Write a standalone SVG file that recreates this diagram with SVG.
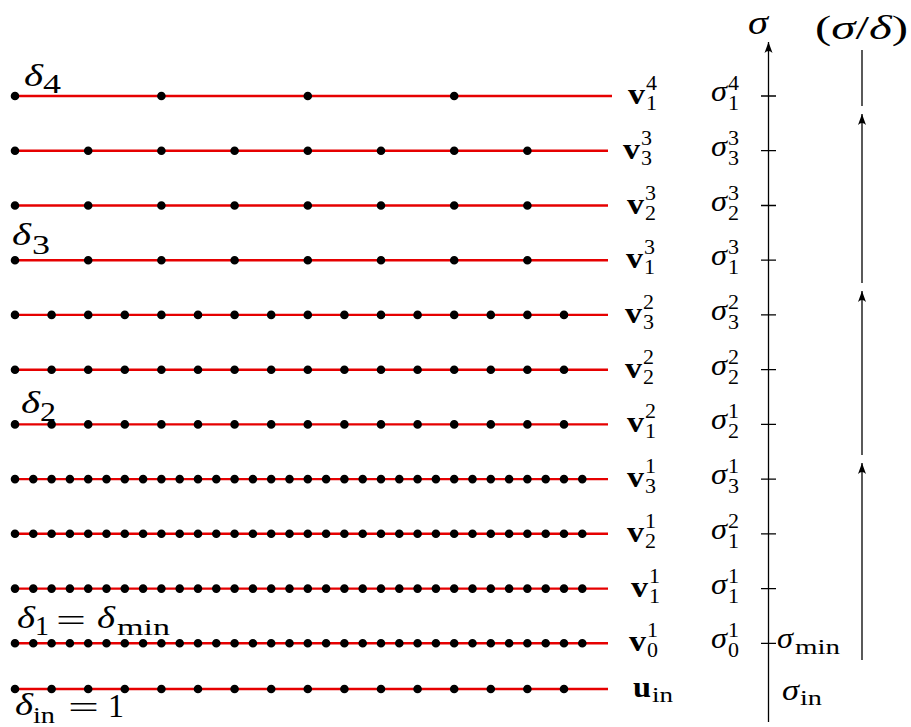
<svg xmlns="http://www.w3.org/2000/svg" width="911" height="727" viewBox="0 0 911 727">
<style>
.ln{stroke:#e60000;stroke-width:2.4;fill:none}
.dt{stroke:#000;stroke-width:8.6;stroke-linecap:round;fill:none}
.t{font-family:"Liberation Serif","DejaVu Serif",serif;fill:#000}
.i{font-style:italic}
.m{font-size:30px;font-style:italic}
.b{font-size:30px;font-weight:bold}
.s{font-size:20px}
.d{font-size:32px}
.ds{font-size:27px}
.ax{stroke:#000;stroke-width:1.3;fill:none}
</style>
<defs>
<marker id="ar" viewBox="-12 -5 13 10" refX="0" refY="0" markerWidth="13" markerHeight="10" markerUnits="userSpaceOnUse" orient="auto">
<path d="M0,0 L-11,-4 Q-7,0 -11,4 Z" fill="#000"/>
</marker>
</defs>
<rect width="911" height="727" fill="#fff"/>

<g id="row-v1-4">
<path class="ln" d="M15 96H612"/>
<path class="dt" d="M15 96H456" stroke-dasharray="0 146.4"/>
<text class="t b" x="628" y="104" textLength="17" lengthAdjust="spacingAndGlyphs">v</text><text class="t s" x="646" y="90" textLength="11" lengthAdjust="spacingAndGlyphs">4</text><text class="t s" x="646" y="110" textLength="11" lengthAdjust="spacingAndGlyphs">1</text>
<text class="t m" x="711" y="101" textLength="16" lengthAdjust="spacingAndGlyphs">σ</text><text class="t s" x="728" y="90" textLength="11" lengthAdjust="spacingAndGlyphs">4</text><text class="t s" x="728" y="110" textLength="11" lengthAdjust="spacingAndGlyphs">1</text>
</g>
<g id="row-v3-3">
<path class="ln" d="M15 150.7H608"/>
<path class="dt" d="M15 150.7H529" stroke-dasharray="0 73.2"/>
<text class="t b" x="623" y="158.7" textLength="17" lengthAdjust="spacingAndGlyphs">v</text><text class="t s" x="641" y="144.7" textLength="11" lengthAdjust="spacingAndGlyphs">3</text><text class="t s" x="641" y="164.7" textLength="11" lengthAdjust="spacingAndGlyphs">3</text>
<text class="t m" x="711" y="155.7" textLength="16" lengthAdjust="spacingAndGlyphs">σ</text><text class="t s" x="728" y="144.7" textLength="11" lengthAdjust="spacingAndGlyphs">3</text><text class="t s" x="728" y="164.7" textLength="11" lengthAdjust="spacingAndGlyphs">3</text>
</g>
<g id="row-v2-3">
<path class="ln" d="M15 205.5H608"/>
<path class="dt" d="M15 205.5H529" stroke-dasharray="0 73.2"/>
<text class="t b" x="627" y="213.5" textLength="17" lengthAdjust="spacingAndGlyphs">v</text><text class="t s" x="645" y="199.5" textLength="11" lengthAdjust="spacingAndGlyphs">3</text><text class="t s" x="645" y="219.5" textLength="11" lengthAdjust="spacingAndGlyphs">2</text>
<text class="t m" x="711" y="210.5" textLength="16" lengthAdjust="spacingAndGlyphs">σ</text><text class="t s" x="728" y="199.5" textLength="11" lengthAdjust="spacingAndGlyphs">3</text><text class="t s" x="728" y="219.5" textLength="11" lengthAdjust="spacingAndGlyphs">2</text>
</g>
<g id="row-v1-3">
<path class="ln" d="M15 260.2H608"/>
<path class="dt" d="M15 260.2H529" stroke-dasharray="0 73.2"/>
<text class="t b" x="626" y="268.2" textLength="17" lengthAdjust="spacingAndGlyphs">v</text><text class="t s" x="644" y="254.2" textLength="11" lengthAdjust="spacingAndGlyphs">3</text><text class="t s" x="644" y="274.2" textLength="11" lengthAdjust="spacingAndGlyphs">1</text>
<text class="t m" x="711" y="265.2" textLength="16" lengthAdjust="spacingAndGlyphs">σ</text><text class="t s" x="728" y="254.2" textLength="11" lengthAdjust="spacingAndGlyphs">3</text><text class="t s" x="728" y="274.2" textLength="11" lengthAdjust="spacingAndGlyphs">1</text>
</g>
<g id="row-v3-2">
<path class="ln" d="M15 314.9H608"/>
<path class="dt" d="M15 314.9H566" stroke-dasharray="0 36.6"/>
<text class="t b" x="625" y="322.9" textLength="17" lengthAdjust="spacingAndGlyphs">v</text><text class="t s" x="643" y="308.9" textLength="11" lengthAdjust="spacingAndGlyphs">2</text><text class="t s" x="643" y="328.9" textLength="11" lengthAdjust="spacingAndGlyphs">3</text>
<text class="t m" x="711" y="319.9" textLength="16" lengthAdjust="spacingAndGlyphs">σ</text><text class="t s" x="728" y="308.9" textLength="11" lengthAdjust="spacingAndGlyphs">2</text><text class="t s" x="728" y="328.9" textLength="11" lengthAdjust="spacingAndGlyphs">3</text>
</g>
<g id="row-v2-2">
<path class="ln" d="M15 369.7H608"/>
<path class="dt" d="M15 369.7H566" stroke-dasharray="0 36.6"/>
<text class="t b" x="625" y="377.7" textLength="17" lengthAdjust="spacingAndGlyphs">v</text><text class="t s" x="643" y="363.7" textLength="11" lengthAdjust="spacingAndGlyphs">2</text><text class="t s" x="643" y="383.7" textLength="11" lengthAdjust="spacingAndGlyphs">2</text>
<text class="t m" x="711" y="374.7" textLength="16" lengthAdjust="spacingAndGlyphs">σ</text><text class="t s" x="728" y="363.7" textLength="11" lengthAdjust="spacingAndGlyphs">2</text><text class="t s" x="728" y="383.7" textLength="11" lengthAdjust="spacingAndGlyphs">2</text>
</g>
<g id="row-v1-2">
<path class="ln" d="M15 424.4H608"/>
<path class="dt" d="M15 424.4H566" stroke-dasharray="0 36.6"/>
<text class="t b" x="627" y="432.4" textLength="17" lengthAdjust="spacingAndGlyphs">v</text><text class="t s" x="645" y="418.4" textLength="11" lengthAdjust="spacingAndGlyphs">2</text><text class="t s" x="645" y="438.4" textLength="11" lengthAdjust="spacingAndGlyphs">1</text>
<text class="t m" x="711" y="429.4" textLength="16" lengthAdjust="spacingAndGlyphs">σ</text><text class="t s" x="728" y="418.4" textLength="11" lengthAdjust="spacingAndGlyphs">1</text><text class="t s" x="728" y="438.4" textLength="11" lengthAdjust="spacingAndGlyphs">2</text>
</g>
<g id="row-v3-1">
<path class="ln" d="M15 479.1H608"/>
<path class="dt" d="M15 479.1H584" stroke-dasharray="0 18.3"/>
<text class="t b" x="627" y="487.1" textLength="17" lengthAdjust="spacingAndGlyphs">v</text><text class="t s" x="645" y="473.1" textLength="11" lengthAdjust="spacingAndGlyphs">1</text><text class="t s" x="645" y="493.1" textLength="11" lengthAdjust="spacingAndGlyphs">3</text>
<text class="t m" x="711" y="484.1" textLength="16" lengthAdjust="spacingAndGlyphs">σ</text><text class="t s" x="728" y="473.1" textLength="11" lengthAdjust="spacingAndGlyphs">1</text><text class="t s" x="728" y="493.1" textLength="11" lengthAdjust="spacingAndGlyphs">3</text>
</g>
<g id="row-v2-1">
<path class="ln" d="M15 533.8H608"/>
<path class="dt" d="M15 533.8H584" stroke-dasharray="0 18.3"/>
<text class="t b" x="627" y="541.8" textLength="17" lengthAdjust="spacingAndGlyphs">v</text><text class="t s" x="645" y="527.8" textLength="11" lengthAdjust="spacingAndGlyphs">1</text><text class="t s" x="645" y="547.8" textLength="11" lengthAdjust="spacingAndGlyphs">2</text>
<text class="t m" x="711" y="538.8" textLength="16" lengthAdjust="spacingAndGlyphs">σ</text><text class="t s" x="728" y="527.8" textLength="11" lengthAdjust="spacingAndGlyphs">2</text><text class="t s" x="728" y="547.8" textLength="11" lengthAdjust="spacingAndGlyphs">1</text>
</g>
<g id="row-v1-1">
<path class="ln" d="M15 588.6H608"/>
<path class="dt" d="M15 588.6H584" stroke-dasharray="0 18.3"/>
<text class="t b" x="631" y="596.6" textLength="17" lengthAdjust="spacingAndGlyphs">v</text><text class="t s" x="649" y="582.6" textLength="11" lengthAdjust="spacingAndGlyphs">1</text><text class="t s" x="649" y="602.6" textLength="11" lengthAdjust="spacingAndGlyphs">1</text>
<text class="t m" x="711" y="593.6" textLength="16" lengthAdjust="spacingAndGlyphs">σ</text><text class="t s" x="728" y="582.6" textLength="11" lengthAdjust="spacingAndGlyphs">1</text><text class="t s" x="728" y="602.6" textLength="11" lengthAdjust="spacingAndGlyphs">1</text>
</g>
<g id="row-v0-1">
<path class="ln" d="M15 643.3H608"/>
<path class="dt" d="M15 643.3H584" stroke-dasharray="0 18.3"/>
<text class="t b" x="629" y="651.3" textLength="17" lengthAdjust="spacingAndGlyphs">v</text><text class="t s" x="647" y="637.3" textLength="11" lengthAdjust="spacingAndGlyphs">1</text><text class="t s" x="647" y="657.3" textLength="11" lengthAdjust="spacingAndGlyphs">0</text>
<text class="t m" x="711" y="648.3" textLength="16" lengthAdjust="spacingAndGlyphs">σ</text><text class="t s" x="728" y="637.3" textLength="11" lengthAdjust="spacingAndGlyphs">1</text><text class="t s" x="728" y="657.3" textLength="11" lengthAdjust="spacingAndGlyphs">0</text>
</g>
<g id="row-uin">
<path class="ln" d="M15 689H608"/>
<path class="dt" d="M15 689H566" stroke-dasharray="0 36.6"/>
<text class="t b" x="633" y="697" textLength="18" lengthAdjust="spacingAndGlyphs">u</text><text class="t s" x="652" y="702" textLength="21" lengthAdjust="spacingAndGlyphs">in</text>
</g>

<g id="delta-labels">
<text class="t d i" x="24" y="86" textLength="19" lengthAdjust="spacingAndGlyphs">δ</text><text class="t ds" x="43" y="93" textLength="18" lengthAdjust="spacingAndGlyphs">4</text>
<text class="t d i" x="12" y="245" textLength="19" lengthAdjust="spacingAndGlyphs">δ</text><text class="t ds" x="32" y="254" textLength="18" lengthAdjust="spacingAndGlyphs">3</text>
<text class="t d i" x="21" y="413" textLength="19" lengthAdjust="spacingAndGlyphs">δ</text><text class="t ds" x="40" y="421" textLength="16" lengthAdjust="spacingAndGlyphs">2</text>
<text class="t d i" x="17" y="628" textLength="18" lengthAdjust="spacingAndGlyphs">δ</text><text class="t ds" x="35" y="635" textLength="14" lengthAdjust="spacingAndGlyphs">1</text><text class="t d" x="56" y="631" textLength="30" lengthAdjust="spacingAndGlyphs">=</text><text class="t d i" x="97" y="628" textLength="18" lengthAdjust="spacingAndGlyphs">δ</text><text class="t" style="font-size:24px" x="117" y="635" textLength="53" lengthAdjust="spacingAndGlyphs">min</text>
<text class="t d i" x="15" y="715" textLength="18" lengthAdjust="spacingAndGlyphs">δ</text><text class="t" style="font-size:23px" x="33" y="723" textLength="22" lengthAdjust="spacingAndGlyphs">in</text><text class="t d" x="68" y="718" textLength="31" lengthAdjust="spacingAndGlyphs">=</text><text class="t" style="font-size:33px" x="108" y="717" textLength="16" lengthAdjust="spacingAndGlyphs">1</text>
</g>

<g id="axis-sigma">
<text class="t i" style="font-size:34px" x="748" y="34" textLength="20" lengthAdjust="spacingAndGlyphs">σ</text>
<path class="ax" d="M768.5 722V42" marker-end="url(#ar)"/>
<path class="ax" d="M761 96H776M761 150.7H776M761 205.5H776M761 260.2H776M761 314.9H776M761 369.7H776M761 424.4H776M761 479.1H776M761 533.8H776M761 588.6H776M761 643.3H776"/>
<text class="t m" x="777" y="648" textLength="16" lengthAdjust="spacingAndGlyphs">σ</text><text class="t" style="font-size:21px" x="795" y="654" textLength="45" lengthAdjust="spacingAndGlyphs">min</text>
<text class="t m" x="782" y="700" textLength="17" lengthAdjust="spacingAndGlyphs">σ</text><text class="t" style="font-size:21px" x="800" y="705" textLength="22" lengthAdjust="spacingAndGlyphs">in</text>
</g>

<g id="axis-ratio">
<text class="t" style="font-size:33px" x="815" y="39" textLength="93" lengthAdjust="spacingAndGlyphs">(<tspan font-style="italic">σ</tspan>/<tspan font-style="italic">δ</tspan>)</text>
<g id="connectors">
<path class="ax" d="M862 50V106"/>
<path class="ax" d="M862 283V114" marker-end="url(#ar)"/>
<path class="ax" d="M862 455V291" marker-end="url(#ar)"/>
<path class="ax" d="M862 660V463" marker-end="url(#ar)"/>
</g>
</g>
</svg>
